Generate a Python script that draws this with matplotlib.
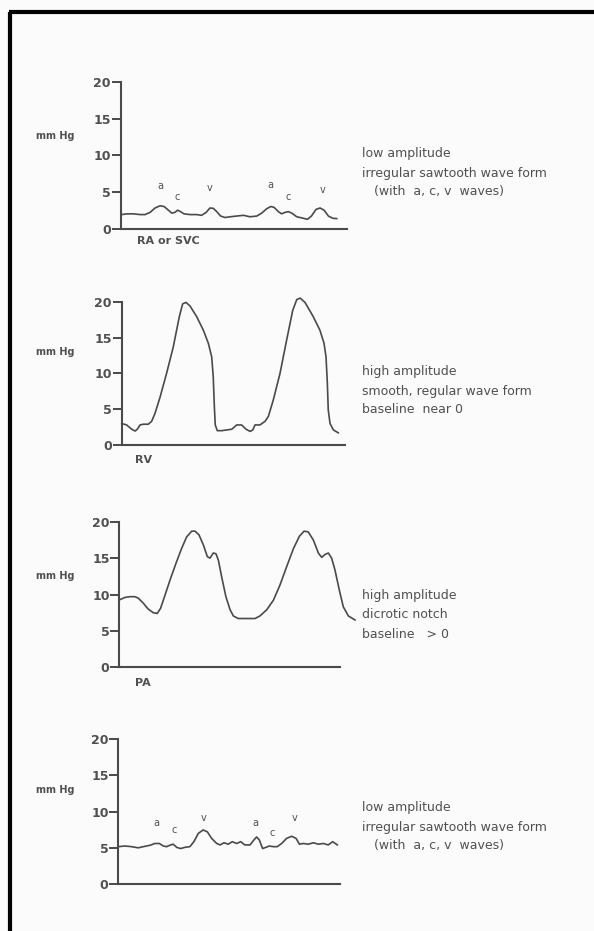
import matplotlib
matplotlib.use("Agg")
import matplotlib.pyplot as plt
from matplotlib.lines import Line2D

W, H = 594, 931

# ---------------- data ----------------
ra_t = [0.4, 2.7, 5.6, 8.6, 10.8, 13.0, 15.2, 17.4, 19.2, 21.1, 22.6, 24.0, 25.2, 26.5, 28.0, 30.7,
        33.6, 35.8, 37.8, 39.5, 41.0, 42.5, 44.2, 46.2, 48.4, 51.3, 54.3, 57.2, 60.2, 62.4, 64.6,
        66.4, 67.8, 69.8, 71.2, 72.7, 74.2, 75.7, 77.9, 80.1, 82.6, 84.4, 86.4, 88.2, 90.0, 91.9,
        93.8, 95.6]
ra_p = [1.9, 2.0, 2.0, 1.9, 1.9, 2.2, 2.8, 3.1, 3.0, 2.5, 2.1, 2.2, 2.5, 2.3, 2.0, 1.9,
        1.9, 1.8, 2.2, 2.8, 2.75, 2.3, 1.7, 1.5, 1.6, 1.7, 1.8, 1.6, 1.7, 2.1, 2.7,
        3.0, 2.9, 2.3, 2.0, 2.2, 2.3, 2.1, 1.6, 1.45, 1.25, 1.7, 2.6, 2.8, 2.5, 1.7,
        1.4, 1.35]

rv_t = [0.0, 2.2, 4.5, 6.0, 7.0, 8.2, 9.7, 11.9, 13.4, 14.9, 17.2, 20.1, 23.1, 25.8, 27.3, 28.8,
        30.6, 33.6, 36.6, 38.8, 40.3, 41.0, 41.5, 41.9, 42.8, 44.8, 47.0, 49.3, 51.5, 53.7, 55.7,
        57.5, 58.7, 59.7, 61.9, 64.2, 65.7, 67.9, 70.9, 73.9, 76.6, 78.4, 79.9, 82.1, 85.8, 88.8,
        90.6, 91.5, 92.1, 92.5, 93.3, 94.8, 97.0]
rv_p = [3.0, 2.8, 2.2, 1.95, 2.2, 2.8, 2.9, 2.9, 3.3, 4.4, 6.7, 10.0, 13.7, 17.9, 19.7, 19.9,
        19.4, 17.9, 16.0, 14.2, 12.3, 9.5, 5.3, 2.8, 2.0, 2.0, 2.1, 2.2, 2.8, 2.8, 2.2,
        1.9, 2.1, 2.8, 2.8, 3.3, 4.0, 6.3, 10.0, 14.7, 18.8, 20.3, 20.5, 19.9, 17.9, 16.0,
        14.2, 12.3, 8.6, 4.9, 3.0, 2.1, 1.7]

pa_t = [0.3, 2.6, 4.8, 7.1, 8.6, 10.9, 13.1, 15.4, 17.2, 18.7, 20.7, 23.0, 25.7, 28.2, 30.5, 32.8,
        34.3, 36.1, 38.1, 39.9, 41.1, 42.6, 43.8, 44.9, 46.4, 48.3, 50.2, 51.7, 53.9, 57.7, 61.5,
        63.7, 66.8, 69.8, 72.8, 75.8, 78.9, 81.6, 83.7, 85.6, 87.9, 90.2, 91.7, 93.2, 94.7, 96.2,
        97.7, 99.7, 101.5, 103.8, 106.8]
pa_p = [9.3, 9.6, 9.7, 9.7, 9.5, 8.8, 8.0, 7.5, 7.4, 8.1, 9.9, 12.0, 14.3, 16.3, 17.9, 18.7,
        18.7, 18.2, 16.8, 15.2, 15.0, 15.7, 15.6, 14.7, 12.4, 9.7, 7.9, 7.05, 6.7, 6.7, 6.7,
        7.05, 7.9, 9.2, 11.3, 13.8, 16.3, 18.0, 18.7, 18.6, 17.5, 15.7, 15.1, 15.5, 15.7, 15.0,
        13.4, 10.6, 8.3, 7.05, 6.5]

pw_t = [0.0, 3.0, 6.0, 9.0, 11.3, 14.3, 16.5, 18.5, 20.3, 21.8, 23.6, 24.8, 26.3, 28.1, 30.1, 32.3,
        34.1, 36.1, 38.3, 40.2, 42.1, 44.4, 45.9, 47.7, 49.6, 51.4, 53.4, 55.2, 57.1, 59.4, 61.2,
        62.4, 63.6, 65.1, 66.6, 68.1, 69.9, 71.7, 73.7, 75.9, 78.2, 80.2, 81.7, 83.5, 85.7, 88.0,
        90.2, 92.5, 94.7, 96.7, 98.8]
pw_p = [5.16, 5.25, 5.16, 5.0, 5.16, 5.35, 5.6, 5.6, 5.25, 5.16, 5.4, 5.5, 5.07, 4.9, 5.07, 5.16,
        5.85, 7.0, 7.47, 7.2, 6.3, 5.6, 5.4, 5.7, 5.5, 5.85, 5.6, 5.85, 5.4, 5.4, 6.1,
        6.5, 6.1, 4.9, 5.07, 5.25, 5.16, 5.16, 5.6, 6.3, 6.6, 6.3, 5.5, 5.6, 5.5, 5.7,
        5.5, 5.6, 5.4, 5.85, 5.4]

yticks = [0, 5, 10, 15, 20]
wave_names = ["a", "c", "v", "a", "c", "v"]
ra_wave_t = [17.4, 24.8, 39.2, 66.4, 73.9, 89.4]
ra_wave_p = [5.8, 4.3, 5.5, 5.9, 4.3, 5.2]
pw_wave_t = [17.0, 25.1, 38.3, 61.7, 69.6, 79.4]
pw_wave_p = [8.4, 7.5, 9.1, 8.4, 7.0, 9.1]

site_labels = ["RA or SVC", "RV", "PA", ""]
descriptions = [
    ["low amplitude", "irregular sawtooth wave form", "   (with  a, c, v  waves)"],
    ["high amplitude", "smooth, regular wave form", "baseline  near 0"],
    ["high amplitude", "dicrotic notch", "baseline   > 0"],
    ["low amplitude", "irregular sawtooth wave form", "   (with  a, c, v  waves)"],
]

# ---------------- style ----------------
BG = "#fcfbfc"
INK = "#4a4a4a"
TXT = "#505050"
plt.rcParams["font.family"] = ["DejaVu Sans"]

fig = plt.figure(figsize=(W / 100, H / 100), dpi=100, facecolor=BG)

# (left px, right px, top(20) px, bottom(0) px)
boxes = [
    (120.7, 346.7, 82.0, 228.5),
    (121.7, 345.0, 301.7, 445.0),
    (119.3, 340.0, 521.7, 667.3),
    (118.3, 340.0, 739.3, 884.0),
]
desc_y = [[153, 173, 192], [372, 391, 410], [596, 615, 634], [808, 828, 846]]
mm_y = [136, 352, 576, 790]
series = [(ra_t, ra_p), (rv_t, rv_p), (pa_t, pa_p), (pw_t, pw_p)]
site_dy = [-1.7, -2.1, -2.2, 0]
site_x = [7.0, 6.0, 7.0, 0]

for i, (l, r, t, b) in enumerate(boxes):
    ax = fig.add_axes([l / W, 1 - b / H, (r - l) / W, (b - t) / H])
    ax.set_facecolor("none")
    ax.set_xlim(0, 100)
    ax.set_ylim(0, 20)
    for s in ("top", "right"):
        ax.spines[s].set_visible(False)
    for s in ("left", "bottom"):
        ax.spines[s].set_color(INK)
        ax.spines[s].set_linewidth(1.5)
    ax.set_xticks([])
    ax.set_yticks(yticks)
    ax.set_yticklabels([str(v) for v in yticks])
    ax.tick_params(axis="y", length=6.5, width=1.4, color=INK, pad=0.5,
                   labelsize=9, labelcolor=TXT)
    for lab in ax.get_yticklabels():
        lab.set_fontweight("bold")
    tt, pp = series[i]
    ax.plot(tt, pp, color=INK, lw=1.2, clip_on=False, solid_joinstyle="round")
    if site_labels[i]:
        ax.text(site_x[i], site_dy[i], site_labels[i], ha="left", va="center",
                fontsize=8, fontweight="bold", color=TXT, clip_on=False)
    fig.text(36 / W, 1 - mm_y[i] / H, "mm Hg", ha="left", va="center",
             fontsize=7, color=TXT, fontweight="bold")
    for k, line in enumerate(descriptions[i]):
        fig.text(362 / W, 1 - desc_y[i][k] / H, line, ha="left", va="center",
                 fontsize=9, color=TXT)
    if i == 0:
        for n, x, y in zip(wave_names, ra_wave_t, ra_wave_p):
            ax.text(x, y, n, ha="center", va="center", fontsize=7, color=TXT)
    if i == 3:
        for n, x, y in zip(wave_names, pw_wave_t, pw_wave_p):
            ax.text(x, y, n, ha="center", va="center", fontsize=7, color=TXT)

# frame border (left and top)
fig.add_artist(Line2D([10 / W, 10 / W], [0, 1 - 11.5 / H], transform=fig.transFigure,
                      color="black", lw=3, solid_capstyle="butt"))
fig.add_artist(Line2D([8.5 / W, 1], [1 - 11.5 / H, 1 - 11.5 / H], transform=fig.transFigure,
                      color="black", lw=3, solid_capstyle="butt"))

fig.savefig("out.png", dpi=100, facecolor=BG)
